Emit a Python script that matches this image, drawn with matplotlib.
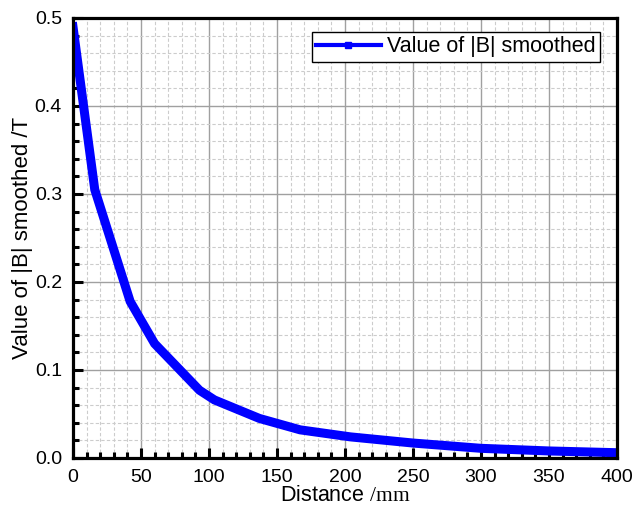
import numpy as np
import matplotlib
matplotlib.use('Agg')
import matplotlib.pyplot as plt
from matplotlib.ticker import MultipleLocator

distance = [0, 16, 42, 60, 93, 104, 137, 167, 204, 250, 300, 350, 400]
b_smoothed = [0.49, 0.305, 0.178, 0.13, 0.077, 0.066, 0.045, 0.032, 0.024,
              0.017, 0.011, 0.008, 0.006]

plt.rcParams['font.family'] = ['Liberation Sans', 'DejaVu Sans']
plt.rcParams['mathtext.fontset'] = 'custom'
plt.rcParams['mathtext.rm'] = 'Liberation Serif'

fig = plt.figure(figsize=(6.43, 5.08), dpi=100)
ax = fig.add_axes([73 / 643, 1 - 458 / 508, 544 / 643, 440 / 508])

ax.plot(distance, b_smoothed, color='#0000ff', linewidth=6.5, marker='s',
        markersize=3, label='Value of |B| smoothed', solid_joinstyle='miter')

ax.set_xlim(0, 400)
ax.set_ylim(0, 0.5)
ax.xaxis.set_major_locator(MultipleLocator(50))
ax.xaxis.set_minor_locator(MultipleLocator(10))
ax.yaxis.set_major_locator(MultipleLocator(0.1))
ax.yaxis.set_minor_locator(MultipleLocator(0.02))

ax.grid(which='major', color='#a0a0a0', linestyle='-', linewidth=1)
ax.grid(which='minor', color='#cccccc', linestyle=(0, (3, 2)), linewidth=0.8)
ax.set_axisbelow(True)

for s in ax.spines.values():
    s.set_linewidth(2.3)
ax.tick_params(which='both', direction='in', top=False, right=False,
               labelsize=14, width=2.2)
ax.tick_params(which='major', length=7)
ax.tick_params(axis='x', which='major', pad=8)
ax.tick_params(axis='y', which='major', pad=8)
ax.tick_params(which='minor', length=4)
ax.yaxis.set_major_formatter(plt.FuncFormatter(lambda v, p: '%.1f' % v))

ax.set_xlabel('Distance $\\mathrm{/mm}$', fontsize=15.5, labelpad=-1)
ax.set_ylabel('Value of |B| smoothed /T', fontsize=16, labelpad=1)

leg = ax.legend(loc='upper right', fontsize=15.5, fancybox=False,
                edgecolor='black', framealpha=1, borderpad=0.2,
                handlelength=3.0, handletextpad=0.3, borderaxespad=0,
                bbox_to_anchor=(0.969, 0.968))
leg.get_frame().set_linewidth(1)
for h in leg.get_lines():
    h.set_linewidth(3)
    h.set_markersize(5)

fig.savefig('out.png', dpi=100)
